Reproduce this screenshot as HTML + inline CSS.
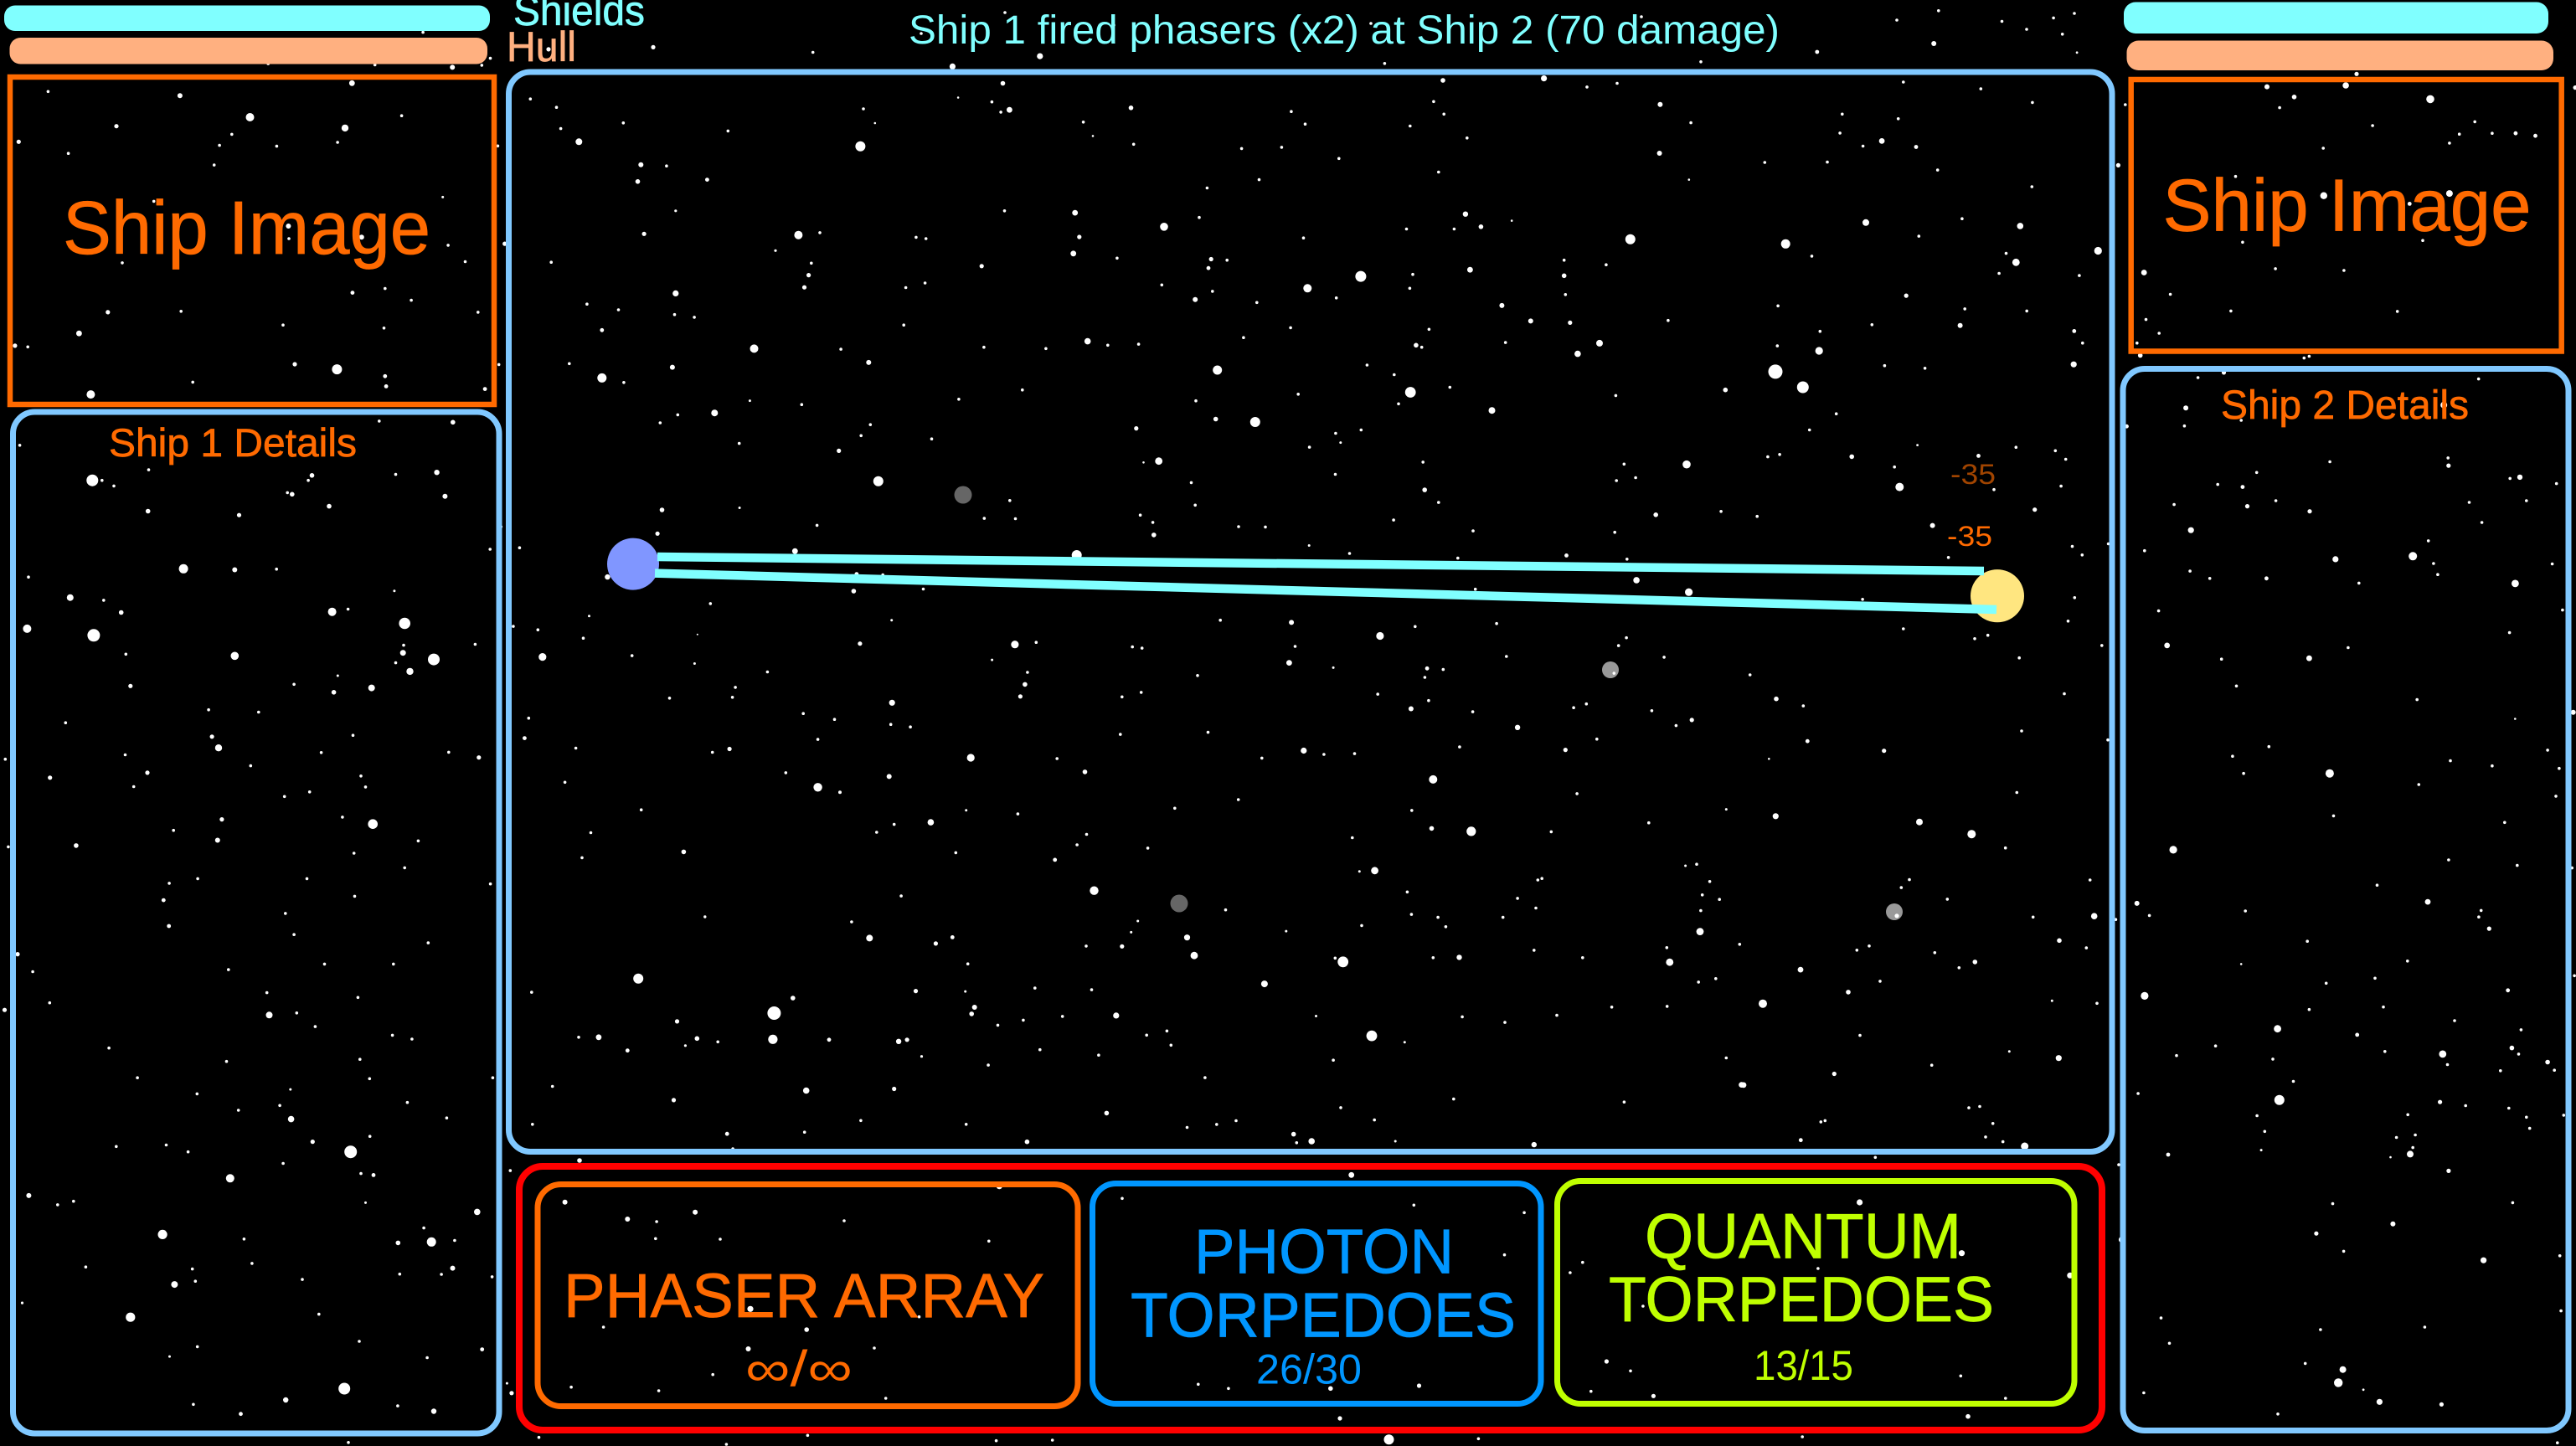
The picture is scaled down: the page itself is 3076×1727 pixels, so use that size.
<!DOCTYPE html>
<html lang="en">
<head>
<meta charset="utf-8">
<title>Ship battle screen</title>
<style>
html,body{margin:0;padding:0;background:#000;width:3076px;height:1727px;overflow:hidden}
svg{display:block}
text{font-family:"Liberation Sans",sans-serif;stroke-width:.7px;paint-order:stroke}
</style>
</head>
<body>
<svg id="scene" width="3076" height="1727" viewBox="0 0 3076 1727" xmlns="http://www.w3.org/2000/svg">
<rect x="0" y="0" width="3076" height="1727" fill="#000"/>
<g id="starfield"></g>

<g>
<rect x="5" y="6.5" width="580" height="30.5" rx="13" fill="#80ffff"/>
<rect x="11.5" y="45" width="570.5" height="31.5" rx="13" fill="#ffb080"/>
<text x="613" y="30" font-size="50" fill="#80ffff" stroke="#80ffff" textLength="157" lengthAdjust="spacingAndGlyphs">Shields</text>
<text x="605" y="73" font-size="50" fill="#ffb080" stroke="#ffb080" textLength="83" lengthAdjust="spacingAndGlyphs">Hull</text>
</g>

<text x="1085" y="52" font-size="48" fill="#80ffff" textLength="1040" lengthAdjust="spacingAndGlyphs">Ship 1 fired phasers (x2) at Ship 2 (70 damage)</text>

<g>
<rect x="12" y="92" width="578" height="391" fill="none" stroke="#ff6a00" stroke-width="6.5"/>
<text x="75" y="303" font-size="90" fill="#ff6a00" stroke="#ff6a00" textLength="439" lengthAdjust="spacingAndGlyphs">Ship Image</text>
</g>

<g>
<rect x="15.5" y="492" width="580.5" height="1220" rx="26" fill="none" stroke="#80c8ff" stroke-width="7"/>
<text x="130" y="545" font-size="47" fill="#ff6a00" stroke="#ff6a00" textLength="296" lengthAdjust="spacingAndGlyphs">Ship 1 Details</text>
</g>

<rect x="607.5" y="86" width="1914.5" height="1289.5" rx="26" fill="none" stroke="#80c8ff" stroke-width="7"/>

<g>
<rect x="2536" y="2.5" width="507" height="37.5" rx="14" fill="#80ffff"/>
<rect x="2539.5" y="48.5" width="509.5" height="35.5" rx="14" fill="#ffb080"/>
</g>

<g>
<rect x="2544.7" y="95" width="514" height="324.5" fill="none" stroke="#ff6a00" stroke-width="6.5"/>
<text x="2582.5" y="275.5" font-size="88" fill="#ff6a00" stroke="#ff6a00" textLength="440" lengthAdjust="spacingAndGlyphs">Ship Image</text>
</g>

<g>
<rect x="2535" y="440.5" width="532" height="1268" rx="26" fill="none" stroke="#80c8ff" stroke-width="7"/>
<text x="2652" y="500" font-size="48" fill="#ff6a00" stroke="#ff6a00" textLength="296" lengthAdjust="spacingAndGlyphs">Ship 2 Details</text>
</g>

<ellipse cx="756" cy="673.6" rx="31" ry="31" fill="#8096ff"/>
<ellipse cx="2385" cy="711.7" rx="32" ry="31.6" fill="#ffe680"/>

<line x1="785" y1="665" x2="2369" y2="682" stroke="#80ffff" stroke-width="10.5"/>
<line x1="782" y1="684.6" x2="2384" y2="728" stroke="#80ffff" stroke-width="10.5"/>

<text x="2329" y="578" font-size="34" fill="#a04400" textLength="54" lengthAdjust="spacingAndGlyphs">-35</text>
<text x="2325" y="652" font-size="34" fill="#ff6a00" textLength="54" lengthAdjust="spacingAndGlyphs">-35</text>

<g>
<rect x="620" y="1393" width="1890" height="315" rx="28" fill="none" stroke="#ff0000" stroke-width="8"/>

<g>
<rect x="642" y="1414.5" width="645" height="265" rx="28" fill="none" stroke="#ff6a00" stroke-width="7"/>
<text x="673" y="1573" font-size="74" fill="#ff6a00" stroke="#ff6a00" textLength="574" lengthAdjust="spacingAndGlyphs">PHASER ARRAY</text>
<text x="890" y="1655" font-size="60" fill="#ff6a00" textLength="128" lengthAdjust="spacingAndGlyphs">∞/∞</text>
</g>

<g>
<rect x="1304.5" y="1413.5" width="535.5" height="263" rx="28" fill="none" stroke="#0096ff" stroke-width="7"/>
<text x="1426" y="1520.7" font-size="75" fill="#0096ff" stroke="#0096ff" textLength="310" lengthAdjust="spacingAndGlyphs">PHOTON</text>
<text x="1350" y="1596.7" font-size="75" fill="#0096ff" stroke="#0096ff" textLength="460" lengthAdjust="spacingAndGlyphs">TORPEDOES</text>
<text x="1500" y="1652.7" font-size="50" fill="#0096ff" textLength="126" lengthAdjust="spacingAndGlyphs">26/30</text>
</g>

<g>
<rect x="1859.5" y="1410.5" width="617.5" height="266" rx="28" fill="none" stroke="#bfff00" stroke-width="7"/>
<text x="1964" y="1502.7" font-size="76" fill="#bfff00" stroke="#bfff00" textLength="378" lengthAdjust="spacingAndGlyphs">QUANTUM</text>
<text x="1921" y="1578" font-size="76" fill="#bfff00" stroke="#bfff00" textLength="460" lengthAdjust="spacingAndGlyphs">TORPEDOES</text>
<text x="2094" y="1648" font-size="50" fill="#bfff00" textLength="119" lengthAdjust="spacingAndGlyphs">13/15</text>
</g>
</g>
</svg>

<script>
var dimStars=[[1150,591,10.5,"#666666"],[1408,1079,10.5,"#666666"],[1923,800,10,"#999999"],[2262,1089,10,"#999999"]];
var topStars=[[1637,28],[1960,20],[2265,24],[2420,35],[2477,16],[1100,40],[1330,30],[1200,15],[1450,40]];
var leftUpperStars=[[238,20],[279,60,7],[308,60],[344,77],[449,28],[942,45,2.8],[931,60],[868,97],[882,102,2.8],[1195,42],[1319,36,3.2],[1344,108,3],[447,153,2.8],[722,165,2.6],[994,138,2.8],[1480,268],[554,327,5.5],[709,330,3],[835,328],[86,352],[212,414,4],[313,422],[366,459,2.8],[1003,457,5],[1051,449],[1191,394,1.5],[82,508,5],[1222,492,6.8],[283,528,7.5],[1219,558],[1217,581,3.5],[1435,555],[380,585],[709,590,4.8],[1310,601,7],[1195,611],[1238,637,4.2],[1020,650,1.5],[394,681,2.6],[888,676],[1008,700,2.8],[1122,687,4],[630,753],[781,760],[198,792],[640,834,2.6],[1066,830],[660,868,4.2],[378,889],[970,882],[1355,881],[1446,897,2.6],[757,922],[445,943,2.6],[151,958,2.6],[1090,953],[404,985],[1104,986],[935,1001],[859,1015],[670,1084,2.6],[1034,1077],[1126,1098,5.8],[524,1117],[657,1147,3],[1263,1149],[230,1163,2.8],[25,1167],[1069,1186],[1222,1230],[597,1263],[927,1263],[1481,1279],[511,1277],[1071,1316],[494,1328,2.4],[862,1368],[510,1406,2.4],[888,1432],[1293,1457],[53,1491,2.6],[99,1544],[690,1538],[980,1521],[1188,1521],[16,902],[1550,501],[1513,200]];
var leftLowerStars=[[806,44],[1081,60],[150,78],[14,102,2.6],[813,119,4],[896,112],[952,158],[1185,187],[1244,200],[329,230],[684,275],[1087,268],[415,330],[1116,333],[1488,330],[595,384],[877,369,1.5],[845,423],[720,439],[1230,413],[879,469,3.8],[1349,465],[1117,527],[944,545,2.6],[351,561],[502,556],[568,579],[1059,579,7.5],[855,618],[1090,652],[1128,657,2.4],[695,668,5],[87,726,3],[174,757],[222,745],[1104,750,1.5],[1441,781,3.8],[491,857,5.6],[1280,835],[737,872],[1202,885,2.8],[1303,882,5.5],[1373,877],[761,954],[259,966],[581,973],[1367,970,3],[1207,990],[1333,991],[1486,999],[527,1025,4],[590,1014],[913,1008],[67,1087,1.6],[963,1125],[394,1135,5.6],[1085,1216],[596,1234],[1456,1243,2.4],[1290,1271],[512,1267,1.5],[1040,1375,7],[863,1413,3.2],[584,1428],[1201,1433],[727,1460,2.4],[1310,1451,3.2],[1052,1556],[1541,642],[1531,1357,1.5],[1545,1390,2.6]];
var topLeftStars=[[659,278,3.4],[90,306],[337,320,3],[468,392,5],[752,387],[218,422,2.6],[646,428,4.2],[434,449],[35,474,2.6],[632,476],[411,486],[518,489],[128,513],[401,552],[829,659,1.5],[288,673],[540,756,3],[541,798],[677,793,3],[839,820],[871,875],[229,879],[660,979,2.4],[721,965],[770,1004],[202,1044,2.6],[339,1041],[895,1044],[530,1087],[719,1097],[148,1115,3.4],[28,1156,2.6],[52,1160],[552,1218,2.6],[631,1235,6],[721,1258,2.4],[723,1292,2.4],[361,1278],[908,1301,2.4],[170,1319,5],[848,1412,2.8],[710,1408],[37,1489],[792,108],[847,225,3],[918,195],[902,218],[702,217],[502,213],[1223,158,2.6],[1522,175],[1027,165,2.6],[993,331],[1042,359],[1167,411],[1363,438],[1050,430],[1084,474,4],[1200,551,3],[1248,555],[1324,601,2.4],[1194,607,2.8],[1265,705,1.6],[1206,782,2.6],[1495,786,5],[1535,778],[1452,838,1.6],[1032,877],[1519,880],[1514,920,2.6],[1506,961,2.6],[1265,981,3.6],[1099,1017],[1158,1036],[1263,1052],[1300,1061],[1127,1104,2.4],[1412,1166,5],[1066,1216],[1259,1228,3],[1127,1264,5.5],[1168,1279],[1338,1381,4],[1501,1353],[1269,1387],[1236,1414],[1384,1483],[1404,1340,1.5],[932,488],[934,1219],[945,815,2.6]];
var centerTopLeftStars=[[398,49,3.6],[662,18,3.6],[550,100,2.8],[415,143,1.3],[129,177],[517,156],[570,180,3.4],[544,187],[164,220,1.3],[937,174,2.8],[793,217],[822,259,1.3],[120,290,6],[945,284],[1421,185],[1463,223],[1392,293],[1271,297],[1565,327],[1324,391],[1167,416],[555,485],[768,491,3.4],[1037,533,4.8],[1143,505],[288,565],[318,569],[781,564,2.6],[763,614,3.4],[1458,567],[895,628],[1179,631,2.6],[1227,634],[1171,658,2.4],[486,652,2.6],[315,703],[257,717],[1030,709],[1183,728],[1470,719,5],[1131,753,3],[1557,748],[1317,762],[251,830],[1419,838],[1277,868],[61,903],[493,897],[680,901],[806,879,3.8],[867,891],[960,888],[145,943,3],[1198,966,5.5],[609,1026],[417,1054],[1133,1059],[1442,1039],[1193,1114,2.8],[1312,1123,6],[953,1142,2.6],[150,1131],[122,1164],[335,1174],[55,1210,2.6],[1555,1157],[1476,1199],[1021,1241,4.4],[975,1245,1.3],[1119,1306],[1554,1281],[174,1302,6],[571,1360],[1131,1374],[494,1414],[588,1415],[965,1404],[1003,1426],[1006,1464,2.8],[1262,1439],[1343,1440],[1475,1496,1.5],[773,1525,6]];
var centerTopRightStars=[[135,40],[1090,35],[1441,5,2.4],[311,91,2.8],[616,85,3.6],[746,111],[837,100],[283,155],[314,193],[967,164,3],[1060,219],[1517,193],[212,229],[1510,250],[384,265],[965,311,3],[1283,339],[1472,338],[298,368],[1054,391,1.3],[379,495,3.2],[426,533,2.8],[201,540],[345,540],[519,515,1.3],[877,571,6],[1346,585,5.5],[1425,622],[677,634],[804,648],[63,683,6.5],[220,677],[393,663,3.4],[677,681,2.8],[211,719],[681,738],[489,771,3],[1323,772],[576,818,3],[695,823,2.6],[991,816],[1450,849],[269,843],[230,891,2.8],[247,897],[500,883],[784,885,4],[718,917,3.8],[1321,893],[1447,908,4.6],[82,951],[164,980],[1315,971,8.5],[1398,1018,7],[213,1033,6.4],[332,1018],[833,1043],[1164,1026,2.8],[177,1068],[459,1088,4],[1499,1098],[64,1147],[1418,1147],[2,1185,1.5],[1292,1228],[1328,1221],[1546,1228,2.8],[251,1244],[858,1250],[1047,1251,4.8],[893,1291],[835,1300],[256,1328,2.8],[298,1366],[954,1403,2.8],[1151,1393],[1260,1408],[162,1419],[402,1452],[830,1456],[29,1520],[356,1534],[684,1526,2.4],[867,1537]];
var centerLowerLeftStars=[[383,18,2.8],[569,13,1.5],[755,55],[1156,38],[1231,39],[1531,30],[1561,47],[1562,77,2.6],[372,75,2.6],[41,109],[702,117,3.4],[1379,127,5.5],[252,179,3.2],[850,172,2.4],[913,174],[843,213,2.8],[1010,208],[499,243],[208,273,1.5],[934,283,1.5],[26,298],[85,306],[194,326],[468,317,1],[96,371,4.6],[311,368],[858,339,2.6],[1230,341,4.6],[1281,336],[1512,347],[1535,350],[1175,378,1.5],[461,387,1.5],[636,407],[1260,408],[1254,437,2.8],[559,444],[552,468],[401,470],[1243,466,2.6],[1487,467],[1533,456],[935,481,3.6],[722,507],[63,518],[797,521],[932,533],[979,539],[757,569],[53,566,2.4],[1483,557],[176,590],[504,600],[545,592,2.6],[1124,613,4.6],[1331,615],[1398,647,2.8],[680,649],[928,658,3],[150,672],[757,684,5.2],[810,696,2],[333,738],[1113,739,1.5],[1237,748],[1028,768,3.8],[212,793],[898,792],[940,773],[1402,797],[1379,822],[1549,830],[191,853],[435,839,2.8],[1088,841],[1326,858,2.4],[1420,932,5.2],[957,945],[486,995,1.7],[838,1007],[1525,1005,1.5],[1509,1032,1.5],[881,1046,4],[1040,1059,2.6],[1080,1044,2.4],[1401,1065],[1487,1066,2.6],[1117,1108],[326,1143,6],[70,1176],[992,1173,2.6],[1111,1174,1.5],[1278,1166],[1414,1170],[697,1190,2.8],[1133,1212,3],[652,1226,8],[1126,1228,2.8],[1473,1232,3.6],[1344,1234],[419,1246,2.6],[1250,1243],[1189,1255],[183,1284],[231,1284,3.4],[467,1287,2.8],[517,1295],[649,1289,5.6],[784,1290,2.4],[951,1294,3.2],[971,1290,2.6],[300,1316,2.4],[439,1304,1.6],[1006,1330,1.6],[1290,1314],[1431,1327],[1546,1279],[1166,1351],[120,1402],[729,1412,3.8],[940,1408,2.6],[411,1435,2.6],[1450,1466,2.8],[860,1484],[72,1493],[1113,1493],[539,1516,2.4],[725,1512],[1259,1535,2.8],[553,1552]];
var centerLowerRightStars=[[1286,29,3.8],[1426,61,4.6],[855,53],[173,136],[363,142,3],[694,153],[912,145],[600,178,4.6],[373,206],[1259,183],[1238,204],[938,233],[1360,235],[357,250,3.4],[475,263,1.5],[726,265,2.4],[769,268],[720,289],[112,284],[594,334],[730,351],[683,373,3],[848,381],[1118,370],[1152,360],[1327,378],[140,436],[968,423,3.2],[1434,403,2.6],[1392,418],[1180,454],[396,485,3.6],[450,495],[532,493],[284,505],[813,475],[1096,483,2.6],[742,562,5],[221,616],[51,639],[1127,600],[685,645],[738,693,2.8],[844,701,5.6],[1058,702],[1319,678],[1526,642,1.5],[526,718],[586,806,4.4],[545,808,1.5],[1447,789],[1417,793,1.5],[1482,835],[1033,827],[1022,831],[673,863],[968,880],[1462,871],[1508,883],[187,911],[1017,906],[1458,913],[684,923],[755,931],[929,931],[551,953],[776,956],[349,968,1.5],[1456,969,4.4],[84,985,3.6],[103,1033,4.4],[1562,1003],[1367,1012],[1012,1019],[480,1040],[501,1050,6.4],[742,1039],[812,1038,3.2],[1142,1039],[1375,1051,4.4],[291,1109,4],[1452,1104],[1498,1095],[1220,1171],[1368,1169],[429,1195,1.5],[820,1197],[934,1212],[1073,1193],[30,1235],[41,1273],[578,1248,6.4],[666,1265,1.5],[475,1313],[1526,1307],[132,1360],[1567,1379,3.4],[797,1417],[1253,1425],[495,1440],[585,1473],[84,1493],[163,1485],[215,1475],[369,1511,2.8],[417,1530,3.8],[377,1534],[641,1530,1.5],[1012,1539,3.2],[1226,278]];
var centerFarRightStars=[[243,33],[328,10],[29,68],[992,15],[1313,9],[123,143,2.8],[220,165],[1155,127],[235,275,2.4],[1002,243],[1311,271],[509,305,2.6],[97,330,1.3],[985,435],[121,509,3.6],[636,527,4],[823,565,5],[944,608],[600,707],[571,732],[1247,708],[736,768],[555,820,2.6],[1043,824],[1262,821,3.8],[412,927],[456,914],[1137,897,2.8],[1234,920],[691,935],[835,964,2.8],[778,982],[210,988,3.4],[495,1024],[381,1058,2.8],[75,1094,5],[1272,1093],[1111,1085,1.5],[423,1193],[958,1243,1.5],[1135,1264,3.6],[680,1286],[331,1313,2.6],[6,1348,3.4],[813,1419],[852,1415],[283,1463],[298,1459],[899,1468],[873,1510],[211,1520,2.4],[935,1525],[1013,1539,4.5]];
var rightLowerStars=[[423,65],[1029,92],[1358,130,1.3],[532,185],[410,204],[1467,192],[1141,213],[1281,223],[1506,228],[447,238],[736,238,5],[1035,260],[1495,283],[749,322],[1323,335],[211,389,4.6],[1135,409],[1365,420],[895,459],[89,495,3],[131,519],[453,510],[1065,492,3.4],[1244,509],[1236,522],[1271,545,2.6],[661,570],[997,609],[439,615,1.3],[888,643],[724,653],[1334,667,2.4],[115,678,4.6],[667,705],[916,700],[1155,727],[561,743,4.4],[1378,745],[828,755,2.4],[353,777],[1347,781,2.8],[1370,793],[921,788],[1115,793,4.4],[222,796],[545,803],[1131,814],[1467,809,2.8],[1309,826],[1490,825],[614,847],[93,871],[567,884,6],[1106,888,2.6],[1192,895],[1337,900],[492,915],[998,913],[1396,918],[1521,914],[1407,940],[518,946],[1023,953],[960,958],[1015,978],[506,983,1.5],[1006,991,4],[940,997,1.3],[194,992,2.4],[1135,1024,2.6],[746,1089],[1350,1087],[948,1129,3],[691,1148,2.6],[783,1183],[1252,1201,3.6],[1508,1192],[170,1315],[1512,1301],[1055,1333],[705,1338],[198,1365],[654,1405],[780,1417,4],[765,1443,5.2],[849,1457,1.4],[112,1463],[903,1481,3.6],[1111,1486,2.6],[562,1505],[1500,1562],[1553,117,3],[1549,425],[1557,638],[38,1160,3.6],[28,1012],[18,527]];
var rightUpperStars=[[205,25],[340,50],[450,42],[469,80],[195,102,3],[500,123,1.4],[1096,173,2.6],[905,203,3],[963,227,2.8],[1073,200,3.8],[1253,232,4.8],[932,252],[1130,294],[1348,285],[1315,314],[1294,335],[1385,312],[1435,312,2.4],[1477,318,2.4],[1025,347],[838,413],[1026,458,4.2],[1209,477,2.4],[1294,453,4],[853,567],[1237,563],[923,629],[1069,633],[643,638,3.4],[699,689],[828,728],[1183,729],[647,748],[675,780],[628,803],[635,832,2.8],[995,834],[984,838],[130,192],[295,208],[405,240],[119,278],[84,330,3.4],[44,342],[157,344,2.4],[203,398],[404,437],[50,521,4],[255,512],[379,529,3.8],[163,553],[545,587,4.6],[349,593],[370,614,4.4],[334,640],[505,645],[136,692,2.6],[261,723],[393,728],[63,760],[251,762,3],[494,775,2.4],[512,803],[493,853,3.6],[90,856],[176,862],[758,884],[813,872,2.6],[1356,887],[732,955,3],[729,997],[850,984],[1282,948,4],[606,998,2.4],[1291,1072],[1292,1090,2.6],[1039,1081],[883,1106],[800,1134],[853,1140,2.4],[1423,1120],[1444,1117,3.2],[1522,1132],[707,1181],[863,1185,2.6],[924,1172],[996,1197,2.6],[1336,1176],[1458,1172],[1363,1223],[743,1241,3.6],[1249,1266],[644,1289],[1051,1309,3.6],[1216,1302,5],[1260,1319],[1513,1320],[741,1337],[783,1354],[904,1354,2.4],[1101,1365],[1269,1345],[1434,1366,4.4],[674,1430],[1535,1428],[1422,1481],[692,1511,3.4],[1078,1516],[995,1541,3.4],[808,1543],[20,1069,2.8],[160,1042,1.4],[290,1067,2.4],[370,1047],[454,1055],[476,1075],[111,1093],[122,1140,5],[323,1146],[466,1138],[410,1193,2.6],[192,1230,3],[226,1305],[490,1279],[511,1299],[567,1273],[495,1399],[481,1454],[130,1472],[282,1495],[310,1487],[377,1540],[553,1511],[43,1403],[1562,205,2.6],[588,387,2.6],[603,245]];
var bottomStars=[[74,108,2.8],[1318,97],[815,160,3.4],[477,200,3.6],[60,257,3],[185,293,3],[120,318,3],[148,327],[328,324],[1303,258,3.6],[595,244],[875,268],[981,295],[147,388],[209,390],[467,397],[962,446],[1401,440,3.6],[1505,520,3.6],[1037,473],[1263,495],[1025,510],[1095,630],[238,640,3.6],[400,668],[97,705],[292,714,2.8],[720,650],[236,783,3],[357,780],[202,875],[1060,828,2.6],[1083,862],[1400,880],[880,915,2.6],[795,925,2.8],[697,925],[668,910],[1105,952,2.6],[66,920],[150,933],[368,960],[1045,935],[1443,960],[804,1032,2.6],[1407,1025,2.8],[851,1108,6],[35,1100],[293,1093],[528,1110],[1248,1098],[937,1105],[474,1112],[215,1125]];

var SVG_NS = "http://www.w3.org/2000/svg";
var starLayer = document.getElementById("starfield");

function drawStar(x, y, r, fill, name) {
  var c = document.createElementNS(SVG_NS, "circle");
  c.setAttribute("cx", x.toFixed(1));
  c.setAttribute("cy", y.toFixed(1));
  c.setAttribute("r", r);
  c.setAttribute("fill", fill);
  
  
  starLayer.appendChild(c);
}

function plotStars(list, ox, oy, sx, sy, xMin, xMax, yMin, yMax) {
  list.forEach(function (p) {
    var x = ox + p[0] / sx;
    var y = oy + p[1] / sy;
    if (x < xMin || x >= xMax || y < yMin || y >= yMax) return;
    drawStar(x, y, p[2] || 1.8, "#ffffff", "star");
  });
}

dimStars.forEach(function (p) {
  drawStar(p[0], p[1], p[2], p[3], "distant-planet");
});

plotStars(topStars, 0, 0, 1, 1, 0, 3076, 0, 1727);
plotStars(topLeftStars, 0, 0, 1.568, 2.8, 0, 980, 0, 560);
plotStars(leftUpperStars, 0, 550, 2.529, 2.529, 0, 620, 560, 1170);
plotStars(leftLowerStars, 0, 1170, 2.529, 2.815, 0, 620, 1170, 1727);
plotStars(centerTopLeftStars, 980, 60, 2.529, 2.529, 980, 1600, 60, 680);
plotStars(centerTopRightStars, 1600, 60, 2.529, 2.529, 1600, 2200, 60, 680);
plotStars(rightUpperStars, 2200, 0, 1.785, 1.96, 2200, 3076, 0, 800);
plotStars(centerLowerLeftStars, 600, 600, 2.01, 2.01, 620, 980, 560, 1380);
plotStars(centerLowerLeftStars, 600, 600, 2.01, 2.01, 980, 1380, 680, 1380);
plotStars(centerLowerRightStars, 1380, 680, 2.24, 2.24, 1380, 2080, 680, 1380);
plotStars(centerFarRightStars, 2080, 780, 3, 2.613, 2080, 2520, 800, 1380);
plotStars(rightLowerStars, 2520, 780, 2.81, 1.656, 2520, 3076, 800, 1727);
plotStars(bottomStars, 600, 1350, 0.804, 3, 620, 2520, 1380, 1727);
</script>
</body>
</html>
